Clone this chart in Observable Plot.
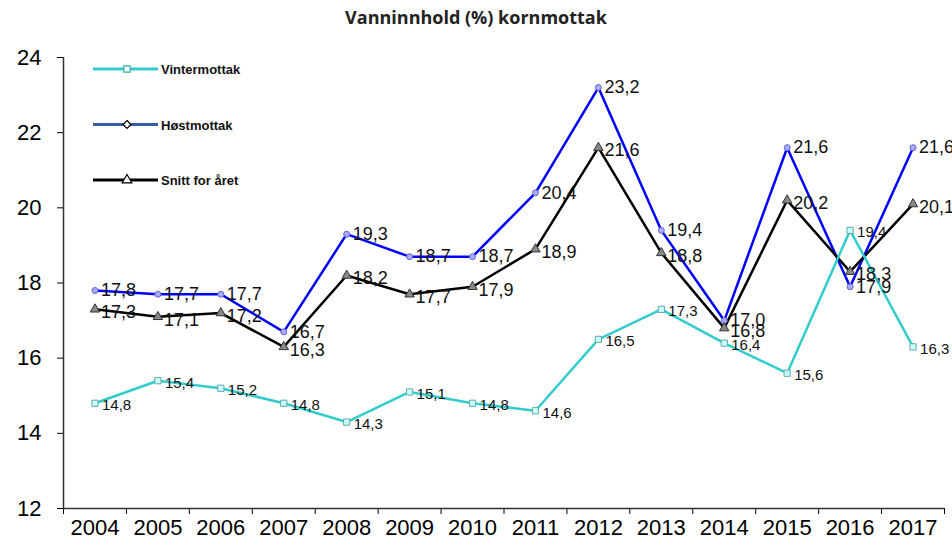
<!DOCTYPE html>
<html>
<head>
<meta charset="utf-8">
<script src="https://cdn.jsdelivr.net/npm/d3@7"></script>
<script src="https://cdn.jsdelivr.net/npm/@observablehq/plot@0.6"></script>
<style>
  body { margin: 0; background: #fff; }
  #wrap { position: relative; width: 952px; height: 545px; }
  #title { height: 30px; line-height: 34px; text-align: center; font-family: "Open Sans", sans-serif; font-weight: 700; font-size: 18px; color: #222; }
  #legend { position: absolute; left: 0; top: 0; pointer-events: none; }
</style>
</head>
<body>
<div id="wrap">
  <div id="title">Vanninnhold (%) kornmottak</div>
  <div id="chart"></div>
</div>
<script>
const years = [2004, 2005, 2006, 2007, 2008, 2009, 2010, 2011, 2012, 2013, 2014, 2015, 2016, 2017];
const vintermottak = [14.8, 15.4, 15.2, 14.8, 14.3, 15.1, 14.8, 14.6, 16.5, 17.3, 16.4, 15.6, 19.4, 16.3];
const hostmottak = [17.8, 17.7, 17.7, 16.7, 19.3, 18.7, 18.7, 20.4, 23.2, 19.4, 17.0, 21.6, 17.9, 21.6];
const snitt = [17.3, 17.1, 17.2, 16.3, 18.2, 17.7, 17.9, 18.9, 21.6, 18.8, 16.8, 20.2, 18.3, 20.1];
const seriesNames = ["Vintermottak", "Høstmottak", "Snitt for året"];
const yTicks = [12, 14, 16, 18, 20, 22, 24];

const rows = (vals, name) => years.map((year, i) => ({year, value: vals[i], series: name}));
const vRows = rows(vintermottak, seriesNames[0]);
const hRows = rows(hostmottak, seriesNames[1]);
const sRows = rows(snitt, seriesNames[2]);
const fmt = d => d.value.toFixed(1).replace(".", ",");

const chart = Plot.plot({
  width: 952,
  height: 515,
  marginTop: 27,
  marginBottom: 37,
  marginLeft: 63,
  marginRight: 8,
  x: {domain: [years[0] - 0.5, years[years.length - 1] + 0.5]},
  y: {domain: [12, 24]},
  style: {fontFamily: "'Liberation Sans', Arial, sans-serif", background: "white", color: "#000"},
  marks: [
    Plot.axisY({ticks: yTicks, tickSize: 6, tickPadding: 16, fontSize: 22, label: null, tickFormat: d => String(d)}),
    Plot.axisX({ticks: d3.range(years[0] - 0.5, years[years.length - 1] + 1, 1), tickSize: 6, tickFormat: () => "", label: null}),
    Plot.axisX({ticks: years, tickSize: 0, tickPadding: 11, fontSize: 22, tickFormat: d => String(d), label: null}),
    Plot.ruleX([years[0] - 0.5], {stroke: "#333", strokeWidth: 1.5}),
    Plot.ruleY([12], {stroke: "#333", strokeWidth: 1.5}),
    Plot.line(hRows, {x: "year", y: "value", stroke: "#0000ff", strokeWidth: 2.5}),
    Plot.line(sRows, {x: "year", y: "value", stroke: "#000000", strokeWidth: 2.5}),
    Plot.line(vRows, {x: "year", y: "value", stroke: "#33cccc", strokeWidth: 2.5}),
    Plot.dot(hRows, {x: "year", y: "value", symbol: "circle", r: 3, fill: "#aaaaff", stroke: "#6666cc", strokeWidth: 1}),
    Plot.dot(sRows, {x: "year", y: "value", symbol: "triangle", r: 3.5, fill: "#888", stroke: "#333", strokeWidth: 1}),
    Plot.dot(vRows, {x: "year", y: "value", symbol: "square", r: 3.5, fill: "#ccffff", stroke: "#5fa9a9", strokeWidth: 1}),
    Plot.text(hRows, {x: "year", y: "value", text: fmt, dx: 6, textAnchor: "start", fontSize: 18, fill: "#111"}),
    Plot.text(sRows, {x: "year", y: "value", text: fmt, dx: 6, dy: 3, textAnchor: "start", fontSize: 18, fill: "#111"}),
    Plot.text(vRows, {x: "year", y: "value", text: fmt, dx: 7, dy: 2, textAnchor: "start", fontSize: 15, fill: "#111"})
  ]
});
document.getElementById("chart").appendChild(chart);

// Legend overlay (inside plot area, top-left)
const lg = d3.select("#wrap").append("svg").attr("id", "legend").attr("width", 952).attr("height", 545);
const legendItems = [
  {name: seriesNames[0], color: "#33cccc", symbol: d3.symbolSquare, size: 40, mstroke: "#33aaaa"},
  {name: seriesNames[1], color: "#3a5ba8", symbol: d3.symbolDiamond2, size: 40, mstroke: "#000"},
  {name: seriesNames[2], color: "#000000", symbol: d3.symbolTriangle, size: 40, mstroke: "#000"}
];
legendItems.forEach((it, i) => {
  const y = 69 + i * 55.5;
  const g = lg.append("g");
  g.append("line").attr("x1", 93).attr("x2", 158).attr("y1", y).attr("y2", y).attr("stroke", it.color).attr("stroke-width", 3);
  g.append("path").attr("d", d3.symbol(it.symbol, it.size)()).attr("transform", `translate(127,${y})`).attr("fill", "#fff").attr("stroke", it.mstroke).attr("stroke-width", 1.2);
  g.append("text").attr("x", 161).attr("y", y + 5).attr("font-family", "'Liberation Sans', Arial, sans-serif").attr("font-weight", 700).attr("font-size", 13).attr("fill", "#111").text(it.name);
});
</script>
</body>
</html>
